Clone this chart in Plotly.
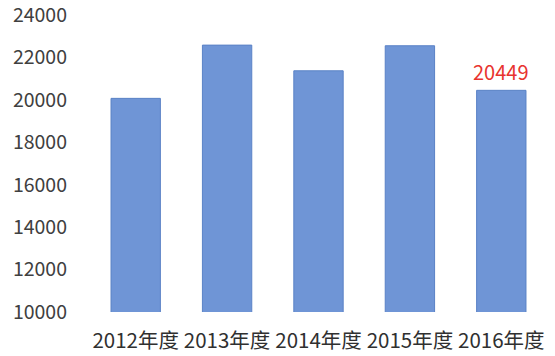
import plotly.graph_objects as go

categories = ["2012年度", "2013年度", "2014年度", "2015年度", "2016年度"]
values = [20070, 22580, 21370, 22550, 20449]
highlight_label = "20449"
y_ticks = [10000, 12000, 14000, 16000, 18000, 20000, 22000, 24000]

FONT = "Noto Sans CJK SC, Noto Sans, sans-serif"

fig = go.Figure(
    go.Bar(
        x=categories,
        y=values,
        width=0.54,
        marker=dict(color="#6f95d6", line=dict(color="#5a82c6", width=1)),
        hoverinfo="skip",
    )
)

fig.add_annotation(
    x=categories[-1],
    y=values[-1],
    text=highlight_label,
    showarrow=False,
    yanchor="bottom",
    yshift=2,
    font=dict(family=FONT, size=20, color="#e8332e"),
)

fig.update_layout(
    width=555,
    height=356,
    margin=dict(l=90, r=8, t=15, b=44, autoexpand=False),
    paper_bgcolor="white",
    plot_bgcolor="white",
    showlegend=False,
    font=dict(family=FONT, color="#404040"),
    bargap=0.46,
)

fig.update_yaxes(
    range=[10000, 24000],
    tickvals=y_ticks,
    ticktext=[str(v) for v in y_ticks],
    showgrid=False,
    zeroline=False,
    showline=False,
    automargin=False,
    ticklabeloverflow="allow",
    tickfont=dict(family=FONT, size=19.5, color="#404040"),
    ticklabelstandoff=22,
)

fig.update_xaxes(
    showgrid=False,
    showline=False,
    automargin=False,
    ticklabeloverflow="allow",
    tickfont=dict(family=FONT, size=20.5, color="#303030"),
    ticklabelstandoff=14,
)

# remove the browser's default 8px body margin so the figure fills the window exactly
fig.write_html(
    "out.html",
    config={"displayModeBar": False, "staticPlot": True},
    post_script="document.body.style.margin='0';document.body.style.overflow='hidden';",
)
